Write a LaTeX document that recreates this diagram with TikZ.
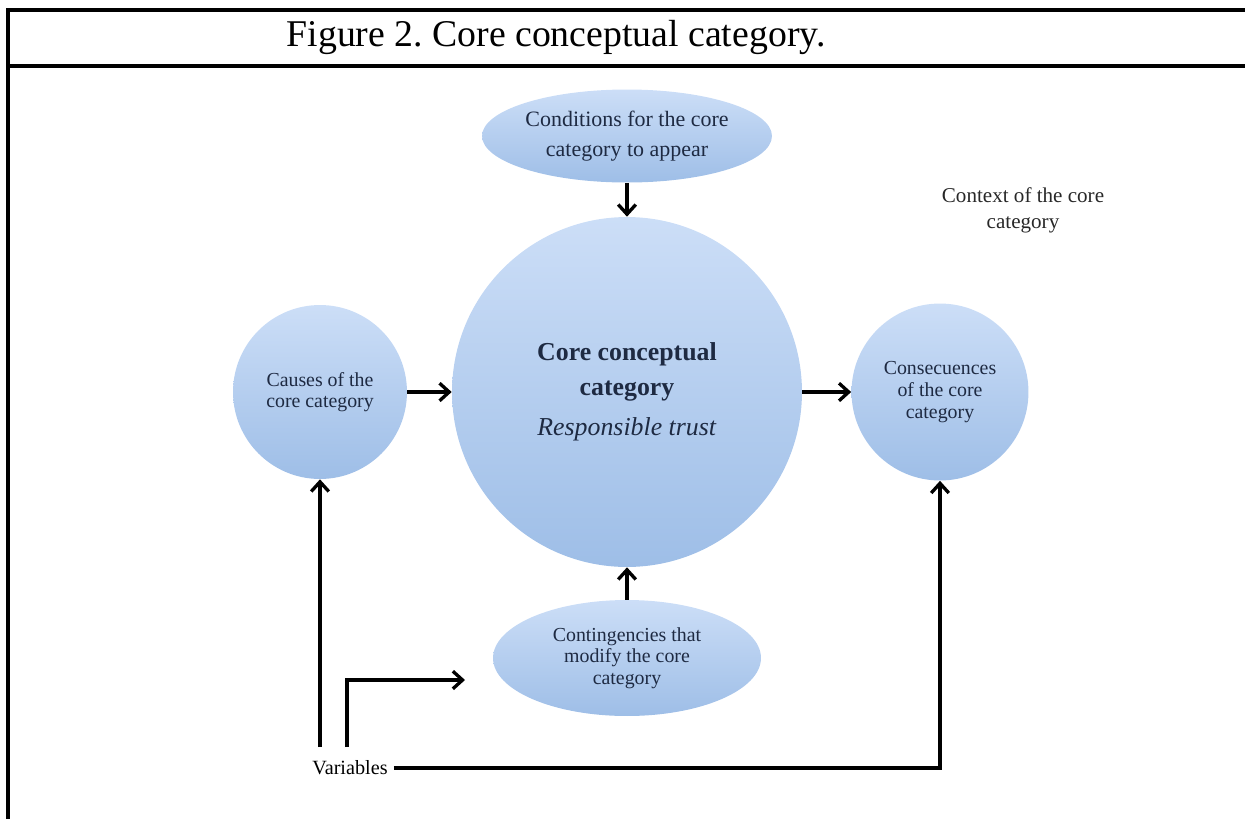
\documentclass[tikz,border=0pt]{standalone}
\usepackage{fontspec}
\setmainfont{Liberation Serif}
\usepackage{tikz}
\usetikzlibrary{shapes.geometric, arrows.meta, positioning, calc}
\frenchspacing
\definecolor{bubbletop}{RGB}{204,222,247}
\definecolor{bubblebot}{RGB}{158,190,231}
\definecolor{bubbletext}{RGB}{30,42,66}
\definecolor{ctxtext}{RGB}{40,40,40}

\begin{document}
\begin{tikzpicture}[x=0.02cm, y=-0.02cm,
  bubble/.style={top color=bubbletop, bottom color=bubblebot, draw=none, inner sep=0pt, align=center, text=bubbletext},
  flow/.style={line width=1.9pt, -{Straight Barb[length=5.5pt,width=10pt]}},
  frameline/.style={line width=2pt},
  lbl/.style={font=\fontsize{11.3}{12.3}\selectfont}]
\useasboundingbox (0,0) rectangle (1245,819);
% Frame and title row
\draw[frameline] (1245,10) -- (8,10) -- (8,819);
\draw[frameline] (8,66) -- (1245,66);
\node[anchor=base, font=\fontsize{21.5}{24}\selectfont] (title) at (556,46) {Figure 2. Core conceptual category.};
% Core category
\node[bubble, circle, minimum size=7cm, font=\fontsize{14.7}{19.8}\selectfont] (core) at (627,392)
  {{\bfseries Core conceptual}\\{\bfseries category}\\[3pt]\textit{Responsible trust}};
% Around the core
\node[bubble, circle, minimum size=3.48cm, lbl] (causes) at (320,392) {Causes of the\\core category};
\node[bubble, circle, minimum size=3.54cm, lbl] (consec) at (940,392) {Consecuences\\of the core\\category};
\node[bubble, ellipse, minimum width=5.8cm, minimum height=1.86cm, font=\fontsize{12.5}{17}\selectfont] (conds) at (627,136)
  {Conditions for the core\\category to appear};
\node[bubble, ellipse, minimum width=5.36cm, minimum height=2.32cm, lbl] (contin) at (627,658)
  {Contingencies that\\modify the core\\category};
% Free labels
\node[align=center, font=\fontsize{12}{14.7}\selectfont, text=ctxtext] (context) at (1023,210) {Context of the core\\category};
\node[font=\fontsize{11.5}{13}\selectfont] (vars) at (350,768) {Variables};
% Arrows
\draw[flow] (conds) -- (core);
\draw[flow] (contin) -- (core);
\draw[flow] (causes) -- (core);
\draw[flow] (core) -- (consec);
\coordinate (vleft) at (320,747);
\coordinate (vmid) at (347,747);
\coordinate (vend) at (465,680);
\draw[flow] (vleft) -- (causes.south);
\draw[flow] (vmid) |- (vend);
\draw[flow] (vars.east) -| (consec.south);
\end{tikzpicture}
\end{document}
